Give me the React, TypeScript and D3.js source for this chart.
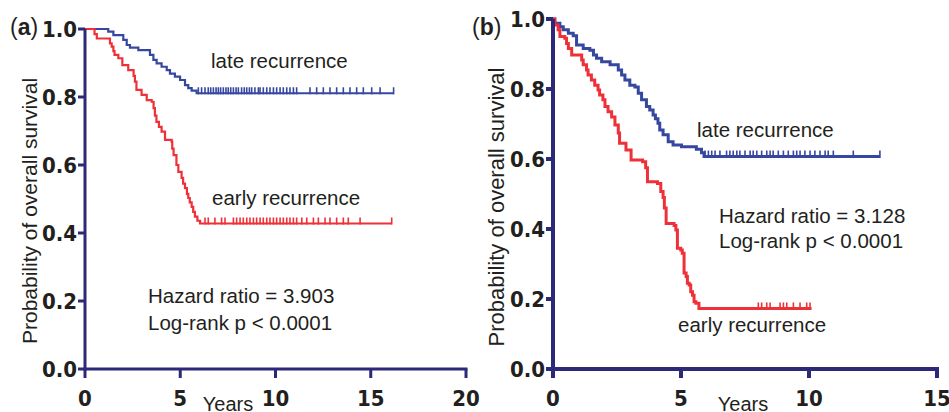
import React from "react";
import * as d3 from "d3";

// ---------- data ----------
const yTicks = [0, 0.2, 0.4, 0.6, 0.8, 1.0];
const yTickLabels = ["0.0", "0.2", "0.4", "0.6", "0.8", "1.0"];
const aXTicks = [0, 5, 10, 15, 20];
const bXTicks = [0, 5, 10, 15];

// Panel (a): late recurrence (event time, survival after event)
const aLate: [number, number][] = [
  [1.22, 0.992], [1.49, 0.982], [2.01, 0.968], [2.19, 0.953], [2.36, 0.945],
  [2.8, 0.938], [3.41, 0.924], [3.59, 0.909], [3.76, 0.899], [4.02, 0.889],
  [4.29, 0.879], [4.46, 0.869], [4.72, 0.86], [4.99, 0.85], [5.25, 0.835],
  [5.42, 0.826], [5.6, 0.819], [5.86, 0.811],
];
const aLateEnd = 16.2;
const aLateCensor = [
  5.95, 6.12, 6.3, 6.47, 6.6, 6.74, 6.88, 7.0, 7.12, 7.26, 7.4, 7.52, 7.65,
  7.79, 7.93, 8.05, 8.22, 8.36, 8.49, 8.63, 8.75, 8.92, 9.1, 9.19, 9.36, 9.54,
  9.71, 9.89, 10.06, 10.24, 10.41, 10.59, 10.76, 10.94, 11.11, 11.81, 12.16,
  12.51, 12.86, 13.21, 13.56, 13.91, 14.26, 14.61, 15.05, 15.49, 16.2,
];

// Panel (a): early recurrence
const aEarly: [number, number][] = [
  [0.5, 0.985], [0.62, 0.972], [1.31, 0.958], [1.4, 0.948], [1.49, 0.935],
  [1.55, 0.924], [1.75, 0.914], [1.96, 0.894], [2.27, 0.879], [2.55, 0.862],
  [2.62, 0.845], [2.7, 0.821], [2.97, 0.806], [3.24, 0.791], [3.5, 0.786],
  [3.6, 0.767], [3.67, 0.745], [3.75, 0.727], [3.88, 0.712], [4.02, 0.698],
  [4.2, 0.674], [4.55, 0.668], [4.58, 0.648], [4.65, 0.629], [4.8, 0.6],
  [4.9, 0.58], [5.07, 0.562], [5.15, 0.545], [5.25, 0.532], [5.35, 0.515],
  [5.42, 0.503], [5.5, 0.49], [5.6, 0.477], [5.68, 0.462], [5.77, 0.448],
  [5.9, 0.436], [6.04, 0.428],
];
const aEarlyEnd = 16.1;
const aEarlyCensor = [
  6.3, 6.47, 6.82, 7.17, 7.35, 7.79, 7.96, 8.14, 8.31, 8.49, 8.66, 8.84, 9.01,
  9.19, 9.36, 9.54, 9.71, 9.89, 10.06, 10.24, 10.41, 10.59, 10.76, 10.94,
  11.11, 11.38, 11.64, 11.99, 12.25, 12.6, 12.86, 13.21, 13.56, 13.82, 14.44,
  16.1,
];

// Panel (b): late recurrence
const bLate: [number, number][] = [
  [0.07, 0.988], [0.27, 0.978], [0.4, 0.969], [0.6, 0.959], [0.79, 0.952],
  [0.92, 0.926], [1.18, 0.916], [1.44, 0.911], [1.58, 0.897], [1.7, 0.888],
  [1.9, 0.878], [2.23, 0.869], [2.55, 0.854], [2.68, 0.84], [2.81, 0.826],
  [3.0, 0.811], [3.2, 0.806], [3.33, 0.788], [3.46, 0.769], [3.65, 0.75],
  [3.78, 0.74], [3.91, 0.726], [4.0, 0.715], [4.1, 0.702], [4.17, 0.683],
  [4.3, 0.669], [4.5, 0.649], [4.69, 0.64], [5.02, 0.635], [5.6, 0.628],
  [5.8, 0.618], [5.9, 0.607],
];
const bLateEnd = 12.77;
const bLateCensor = [
  5.94, 6.07, 6.2, 6.33, 6.52, 6.78, 6.91, 7.04, 7.18, 7.3, 7.5, 7.7, 7.82,
  7.96, 8.15, 8.35, 8.48, 8.6, 8.8, 9.0, 9.19, 9.39, 9.52, 9.65, 9.84, 10.04,
  10.23, 10.43, 10.63, 10.75, 10.95, 11.73, 12.77,
];

// Panel (b): early recurrence
const bEarly: [number, number][] = [
  [0.07, 0.983], [0.2, 0.969], [0.27, 0.95], [0.46, 0.945], [0.53, 0.93],
  [0.6, 0.916], [0.73, 0.897], [1.12, 0.883], [1.18, 0.869], [1.31, 0.854],
  [1.37, 0.84], [1.5, 0.826], [1.63, 0.811], [1.76, 0.797], [1.82, 0.783],
  [1.95, 0.769], [2.03, 0.75], [2.15, 0.735], [2.29, 0.72], [2.42, 0.697],
  [2.55, 0.674], [2.6, 0.645], [2.85, 0.626], [3.05, 0.597], [3.5, 0.592],
  [3.62, 0.575], [3.69, 0.535], [4.08, 0.53], [4.21, 0.507], [4.3, 0.49],
  [4.35, 0.46], [4.42, 0.416], [4.73, 0.41], [4.8, 0.397], [4.86, 0.345],
  [4.99, 0.34], [5.05, 0.331], [5.12, 0.274], [5.2, 0.264], [5.25, 0.245],
  [5.32, 0.24], [5.38, 0.221], [5.45, 0.211], [5.51, 0.192], [5.58, 0.188],
  [5.7, 0.173],
];
const bEarlyEnd = 10.1;
const bEarlyCensor = [8.02, 8.15, 8.35, 8.48, 8.87, 9.0, 9.13, 9.39, 9.65, 9.91, 10.04];

// ---------- styles ----------
const NAVY = "#2c2a78";
const BLUE = "#3647a0";
const RED = "#ee3038";
const TEXT = "#231f20";
const SANS = "'Liberation Sans', Arial, Helvetica, sans-serif";
const NARROW = "'Liberation Sans Narrow', 'Arial Narrow', 'DejaVu Sans Condensed', sans-serif";

type Series = {
  events: [number, number][];
  end: number;
  censor: number[];
  color: string;
};

type PanelProps = {
  left: number;
  right: number;
  top: number;
  bottom: number;
  xMax: number;
  xTicks: number[];
  series: Series[];
  axisW: number;
  lineW: number;
  tag: string;
  tagX: number;
  yLabelX: number;
  yLabelY: number;
  yLabelSize: number;
  yearsX: number;
  texts: { x: number; y: number; t: string }[];
};

function Panel(p: PanelProps) {
  const x = d3.scaleLinear().domain([0, p.xMax]).range([p.left, p.right]);
  const y = d3.scaleLinear().domain([0, 1]).range([p.bottom, p.top]);
  const line = d3
    .line<[number, number]>()
    .x((d) => x(d[0]))
    .y((d) => y(d[1]))
    .curve(d3.curveStepAfter);

  return (
    <g>
      {p.series.map((s, i) => {
        const last = s.events[s.events.length - 1][1];
        const pts: [number, number][] = [[0, 1], ...s.events, [s.end, last]];
        return (
          <g key={i}>
            <path d={line(pts) || ""} fill="none" stroke={s.color} strokeWidth={p.lineW} strokeLinejoin="miter" />
            {s.censor.map((c, j) => (
              <line
                key={j}
                x1={x(c)}
                x2={x(c)}
                y1={y(last) + p.lineW / 2}
                y2={y(last) - 6}
                stroke={s.color}
                strokeWidth={1.6}
              />
            ))}
          </g>
        );
      })}
      {/* axes */}
      <line x1={x(0)} x2={x(0)} y1={y(0) + p.axisW / 2} y2={y(1)} stroke={NAVY} strokeWidth={p.axisW} />
      <line x1={x(0) - p.axisW / 2} x2={x(p.xMax) + p.axisW / 2} y1={y(0)} y2={y(0)} stroke={NAVY} strokeWidth={p.axisW} />
      {yTicks.map((t, i) => (
        <g key={"y" + i}>
          <line x1={x(0) - 7} x2={x(0)} y1={y(t)} y2={y(t)} stroke={NAVY} strokeWidth={p.axisW} />
          <text
            x={x(0) - 8}
            y={y(t) + 8}
            textAnchor="end"
            fontFamily={NARROW}
            fontWeight="bold"
            fontSize={22}
            fill={TEXT}
          >
            {yTickLabels[i]}
          </text>
        </g>
      ))}
      {p.xTicks.map((t, i) => (
        <g key={"x" + i}>
          <line x1={x(t)} x2={x(t)} y1={y(0)} y2={y(0) + 9} stroke={NAVY} strokeWidth={p.axisW} />
          <text
            x={x(t)}
            y={406}
            textAnchor="middle"
            fontFamily={NARROW}
            fontWeight="bold"
            fontSize={22}
            fill={TEXT}
          >
            {t}
          </text>
        </g>
      ))}
      <text x={p.yearsX} y={411} textAnchor="middle" fontFamily={SANS} fontSize={20} fill={TEXT}>
        Years
      </text>
      <text
        transform={`translate(${p.yLabelX},${p.yLabelY}) rotate(-90)`}
        textAnchor="middle"
        fontFamily={SANS}
        fontSize={p.yLabelSize}
        fill={TEXT}
      >
        Probability of overall survival
      </text>
      <text x={p.tagX} y={35} fontFamily={SANS} fontSize={23} fill={TEXT}>
        (<tspan fontWeight="bold">{p.tag}</tspan>)
      </text>
      {p.texts.map((t, i) => (
        <text key={"t" + i} x={t.x} y={t.y} fontFamily={SANS} fontSize={20.5} fill={TEXT}>
          {t.t}
        </text>
      ))}
    </g>
  );
}

export default function App() {
  return (
    <svg
      width={949}
      height={412}
      style={{ position: "absolute", left: 0, top: 0, background: "#fff" }}
    >
      <Panel
        left={85}
        right={466}
        top={29}
        bottom={369}
        xMax={20}
        xTicks={aXTicks}
        axisW={3}
        lineW={2.2}
        tag="a"
        tagX={10}
        yLabelX={37}
        yLabelY={211}
        yLabelSize={21}
        yearsX={228}
        series={[
          { events: aLate, end: aLateEnd, censor: aLateCensor, color: BLUE },
          { events: aEarly, end: aEarlyEnd, censor: aEarlyCensor, color: RED },
        ]}
        texts={[
          { x: 211, y: 68, t: "late recurrence" },
          { x: 212, y: 205, t: "early recurrence" },
          { x: 148, y: 303, t: "Hazard ratio = 3.903" },
          { x: 148, y: 330, t: "Log-rank p < 0.0001" },
        ]}
      />
      <Panel
        left={553}
        right={937}
        top={19}
        bottom={369}
        xMax={15}
        xTicks={bXTicks}
        axisW={4}
        lineW={3}
        tag="b"
        tagX={472}
        yLabelX={504}
        yLabelY={207}
        yLabelSize={22}
        yearsX={743}
        series={[
          { events: bLate, end: bLateEnd, censor: bLateCensor, color: BLUE },
          { events: bEarly, end: bEarlyEnd, censor: bEarlyCensor, color: RED },
        ]}
        texts={[
          { x: 697, y: 137, t: "late recurrence" },
          { x: 719, y: 223, t: "Hazard ratio = 3.128" },
          { x: 719, y: 248, t: "Log-rank p < 0.0001" },
          { x: 678, y: 332, t: "early recurrence" },
        ]}
      />
    </svg>
  );
}
